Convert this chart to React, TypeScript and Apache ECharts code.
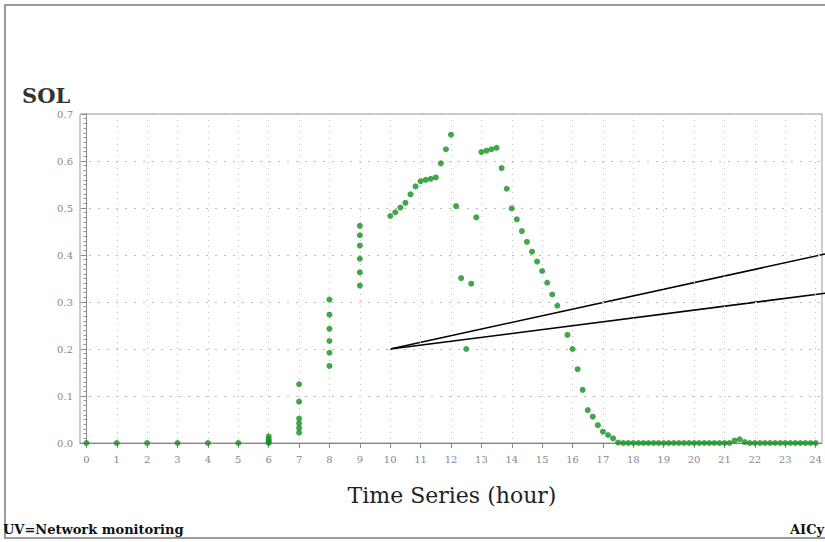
import React, { useEffect, useRef } from "react";
import * as echarts from "echarts";

// Observation times (HH:MM) and SOL readings
const times: string[] = [
  "0:00", "1:00", "2:00", "3:00", "4:00", "5:00",
  "6:00", "6:00", "6:00", "6:00",
  "7:00", "7:00", "7:00", "7:00", "7:00", "7:00",
  "8:00", "8:00", "8:00", "8:00", "8:00", "8:00",
  "9:00", "9:00", "9:00", "9:00", "9:00", "9:00",
  "10:00", "10:10", "10:20", "10:30", "10:40", "10:50",
  "11:00", "11:10", "11:20", "11:30", "11:40", "11:50",
  "12:00", "12:10", "12:20", "12:30", "12:40", "12:50",
  "13:00", "13:10", "13:20", "13:30", "13:40", "13:50",
  "14:00", "14:10", "14:20", "14:30", "14:40", "14:50",
  "15:00", "15:10", "15:20", "15:30", "15:50",
  "16:00", "16:10", "16:20", "16:30", "16:40", "16:50",
  "17:00", "17:10", "17:20", "17:30", "17:40", "17:50",
  "18:00", "18:10", "18:20", "18:30", "18:40", "18:50",
  "19:00", "19:10", "19:20", "19:30", "19:40", "19:50",
  "20:00", "20:10", "20:20", "20:30", "20:40", "20:50",
  "21:00", "21:10", "21:20", "21:30", "21:40", "21:50",
  "22:00", "22:10", "22:20", "22:30", "22:40", "22:50",
  "23:00", "23:10", "23:20", "23:30", "23:40", "23:50",
  "24:00",
];

const sol: number[] = [
  0, 0, 0, 0, 0, 0,
  0, 0.003, 0.008, 0.014,
  0.022, 0.032, 0.042, 0.052, 0.088, 0.125,
  0.164, 0.192, 0.217, 0.243, 0.273, 0.305,
  0.335, 0.363, 0.392, 0.42, 0.442, 0.462,
  0.483, 0.491, 0.501, 0.511, 0.529, 0.546,
  0.557, 0.56, 0.562, 0.565, 0.595, 0.625,
  0.656, 0.504, 0.351, 0.2, 0.339, 0.48,
  0.619, 0.622, 0.625, 0.628, 0.585, 0.541,
  0.499, 0.476, 0.451, 0.428, 0.407, 0.386,
  0.366, 0.341, 0.316, 0.292, 0.23,
  0.2, 0.157, 0.113, 0.07, 0.056, 0.038,
  0.024, 0.017, 0.01, 0.001, 0, 0,
  0, 0, 0, 0, 0, 0,
  0, 0, 0, 0, 0, 0,
  0, 0, 0, 0, 0, 0,
  0, 0, 0.005, 0.008, 0.002, 0,
  0, 0, 0, 0, 0, 0,
  0, 0, 0, 0, 0, 0,
  0,
];

const xTicks: number[] = [0, 1, 2, 3, 4, 5, 6, 7, 8, 9, 10, 11, 12, 13, 14, 15, 16, 17, 18, 19, 20, 21, 22, 23, 24];

// Callout wedge: apex and the two far ends (data coordinates)
const calloutApex: [number, number] = [10, 0.2];
const calloutEnds: [number, number][] = [
  [24.31, 0.402],
  [24.31, 0.3185],
];

const toHours = (t: string) => {
  const [h, m] = t.split(":").map(Number);
  return h + m / 60;
};

const FONT = "DejaVu Serif";

export default function App() {
  const ref = useRef<HTMLDivElement>(null);

  useEffect(() => {
    if (!ref.current) return;
    const chart = echarts.init(ref.current, undefined, { renderer: "svg" });

    const points = times.map((t, i) => [toHours(t), sol[i]]);

    const staticGraphics: any[] = [
      {
        type: "rect",
        shape: { x: 5, y: 5, width: 830, height: 533 },
        style: { fill: "none", stroke: "#9a9a9a", lineWidth: 2 },
        silent: true,
      },
      {
        type: "text",
        left: 22,
        top: 85,
        style: { text: "SOL", font: `bold 21px '${FONT}'`, fill: "#333" },
      },
      {
        type: "text",
        x: 452,
        y: 484,
        style: {
          text: "Time Series (hour)",
          font: `22px '${FONT}'`,
          fill: "#222",
          textAlign: "center",
        },
      },
      {
        type: "text",
        x: 3,
        y: 523,
        style: { text: "UV=Network monitoring", font: `bold 13px '${FONT}'`, fill: "#111" },
      },
      {
        type: "text",
        x: 790,
        y: 523,
        style: { text: "AICy", font: `bold 13px '${FONT}'`, fill: "#111" },
      },
    ];

    const option: any = {
      animation: false,
      backgroundColor: "#fff",
      grid: {
        left: 80,
        right: 3,
        top: 114,
        bottom: 99,
        show: true,
        borderColor: "#999",
        borderWidth: 1,
        backgroundColor: "transparent",
      },
      xAxis: {
        type: "value",
        min: -0.21,
        max: 24.21,
        axisLine: { show: true, onZero: false, lineStyle: { color: "#888" } },
        axisTick: {
          show: true,
          customValues: xTicks,
          length: 5,
          lineStyle: { color: "#888" },
        },
        axisLabel: {
          customValues: xTicks,
          fontFamily: FONT,
          fontSize: 10,
          color: "#888",
          margin: 11,
        },
        splitLine: { show: true, lineStyle: { color: "#bbb", type: [1, 5] } },
      },
      yAxis: {
        type: "value",
        min: 0,
        max: 0.7,
        interval: 0.1,
        axisLine: { show: true, lineStyle: { color: "#888" } },
        axisTick: { show: true, length: 5, lineStyle: { color: "#888" } },
        minorTick: { show: true, splitNumber: 10, length: 3, lineStyle: { color: "#999" } },
        axisLabel: {
          formatter: (v: number) => v.toFixed(1),
          fontFamily: FONT,
          fontSize: 10,
          color: "#888",
          margin: 7,
        },
        splitLine: { show: true, lineStyle: { color: "#bbb", type: [2, 7] } },
      },
      series: [
        {
          type: "scatter",
          data: points,
          symbol: "circle",
          symbolSize: 6,
          itemStyle: { color: "#14901a" },
          clip: false,
        },
      ],
      graphic: staticGraphics,
    };

    chart.setOption(option);

    const apex = chart.convertToPixel({ gridIndex: 0 }, calloutApex) as number[];
    const lines = calloutEnds.map((e) => {
      const p = chart.convertToPixel({ gridIndex: 0 }, e) as number[];
      return {
        type: "line",
        shape: { x1: apex[0], y1: apex[1], x2: p[0], y2: p[1] },
        style: { stroke: "#000", lineWidth: 1.5 },
        silent: true,
      };
    });
    chart.setOption({ graphic: [...staticGraphics, ...lines] });

    return () => chart.dispose();
  }, []);

  return (
    <div
      ref={ref}
      style={{ position: "fixed", left: 0, top: 0, width: 825, height: 542 }}
    />
  );
}
